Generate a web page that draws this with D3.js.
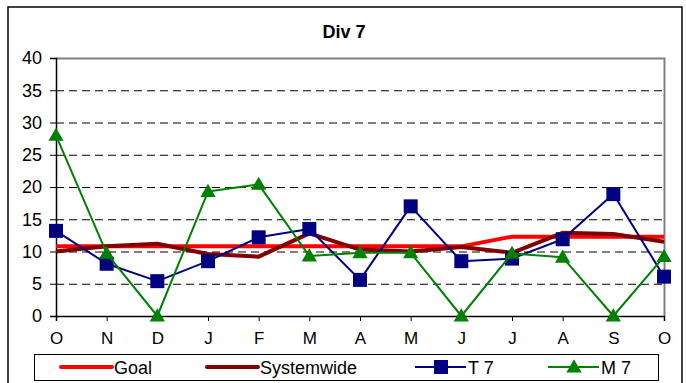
<!DOCTYPE html>
<html>
<head>
<meta charset="utf-8">
<script src="https://cdn.jsdelivr.net/npm/d3@7"></script>
<style>
  html, body { margin: 0; padding: 0; background: #fff; }
  svg { display: block; font-family: "Liberation Sans", Arial, sans-serif; }
</style>
</head>
<body>
<svg id="chart" width="686" height="383"></svg>
<script>
// Monthly categories, October through October
const months = ["O", "N", "D", "J", "F", "M", "A", "M", "J", "J", "A", "S", "O"];
const goal       = [10.8, 10.8, 10.8, 10.8, 10.8, 10.8, 10.8, 10.8, 10.8, 12.3, 12.3, 12.3, 12.3];
const systemwide = [10.0, 10.8, 11.2, 9.6, 9.2, 12.8, 10.3, 10.0, 10.7, 9.8, 12.9, 12.7, 11.5];
const t7         = [13.2, 8.1, 5.4, 8.5, 12.2, 13.5, 5.6, 17.0, 8.5, 8.9, 11.9, 18.9, 6.1];
const m7         = [28.0, 9.7, 0, 19.3, 20.4, 9.3, 9.8, 9.8, 0, 9.7, 9.1, 0, 9.2];
const yTicks     = [0, 5, 10, 15, 20, 25, 30, 35, 40];

const series = [
  { name: "Goal",       values: goal,       color: "#ff0000", width: 4, marker: null },
  { name: "Systemwide", values: systemwide, color: "#800000", width: 4, marker: null },
  { name: "T 7",        values: t7,         color: "#000080", width: 2, marker: "square" },
  { name: "M 7",        values: m7,         color: "#008000", width: 2, marker: "triangle" }
];

const FONT = "Liberation Sans, Arial, sans-serif";
const svg = d3.select("#chart");
const plot = { left: 56, right: 664, top: 58, bottom: 316 };

// Outer chart frame
svg.append("rect")
  .attr("x", 8).attr("y", 7).attr("width", 674).attr("height", 400)
  .attr("fill", "#fff").attr("stroke", "#000").attr("stroke-width", 1.5);

svg.append("text")
  .attr("x", 344).attr("y", 37.5)
  .attr("text-anchor", "middle")
  .attr("font-size", 18).attr("font-weight", "bold")
  .text("Div 7");

const x = d3.scalePoint().domain(d3.range(months.length)).range([plot.left, plot.right]);
const y = d3.scaleLinear().domain([0, 40]).range([plot.bottom, plot.top]);

// Dashed gridlines
svg.append("g")
  .selectAll("line")
  .data(yTicks.filter(t => t > 0 && t < 40))
  .join("line")
  .attr("x1", plot.left).attr("x2", plot.right)
  .attr("y1", d => y(d) + 0.5).attr("y2", d => y(d) + 0.5)
  .attr("stroke", "#000").attr("stroke-width", 1)
  .attr("stroke-dasharray", "8,5");

// Plot area border (top and right in grey)
svg.append("path")
  .attr("d", `M${plot.left},${plot.top + 0.5}H${plot.right + 0.5}V${plot.bottom}`)
  .attr("fill", "none").attr("stroke", "#808080").attr("stroke-width", 2);

// Y axis
const yAxis = svg.append("g")
  .attr("transform", `translate(${plot.left},0)`)
  .call(d3.axisLeft(y).tickValues(yTicks).tickSize(6).tickPadding(8));
yAxis.select(".domain").attr("stroke", "#000").attr("stroke-width", 1.5);
yAxis.selectAll(".tick line").attr("stroke", "#000");
yAxis.selectAll(".tick text")
  .attr("font-size", 18).attr("fill", "#000")
  .attr("font-family", FONT);

// X axis
const xAxis = svg.append("g")
  .attr("transform", `translate(0,${plot.bottom})`)
  .call(d3.axisBottom(x).tickFormat(i => months[i]).tickSize(5).tickPadding(0));
xAxis.select(".domain").attr("stroke", "#000").attr("stroke-width", 1.5);
xAxis.selectAll(".tick line").attr("stroke", "#000");
xAxis.selectAll(".tick text")
  .attr("font-size", 17).attr("fill", "#000")
  .attr("font-family", FONT)
  .attr("dy", null)
  .attr("y", 28);

const line = d3.line().x((d, i) => x(i)).y(d => y(d));

const triangle = d3.symbol().type(d3.symbolTriangle).size(100);

function drawMarker(g, type, color, cx, cy) {
  if (type === "square") {
    g.append("rect")
      .attr("x", cx - 7).attr("y", cy - 7).attr("width", 14).attr("height", 14)
      .attr("fill", color);
  } else if (type === "triangle") {
    g.append("path")
      .attr("d", triangle())
      .attr("transform", `translate(${cx},${cy + 1})`)
      .attr("fill", color);
  }
}

series.forEach(s => {
  const g = svg.append("g");
  g.append("path")
    .datum(s.values)
    .attr("d", line)
    .attr("fill", "none")
    .attr("stroke", s.color)
    .attr("stroke-width", s.width)
    .attr("stroke-linejoin", "round");
  if (s.marker) {
    s.values.forEach((v, i) => drawMarker(g, s.marker, s.color, x(i), y(v)));
  }
});

// Legend
const legend = svg.append("g");
legend.append("rect")
  .attr("x", 34.5).attr("y", 354.5).attr("width", 624).attr("height", 26)
  .attr("fill", "#fff").attr("stroke", "#000").attr("stroke-width", 1);

const legendX = [61, 207, 415, 548];
series.forEach((s, i) => {
  const lx = legendX[i];
  const ly = 367;
  const g = legend.append("g");
  g.append("line")
    .attr("x1", lx).attr("x2", lx + 51)
    .attr("y1", ly).attr("y2", ly)
    .attr("stroke", s.color).attr("stroke-width", s.width)
    .attr("stroke-linecap", s.marker ? "butt" : "round");
  if (s.marker) drawMarker(g, s.marker, s.color, lx + 26, ly);
  g.append("text")
    .attr("x", lx + 53).attr("y", ly + 6.5)
    .attr("font-size", 18)
    .attr("font-family", FONT)
    .text(s.name);
});
</script>
</body>
</html>
